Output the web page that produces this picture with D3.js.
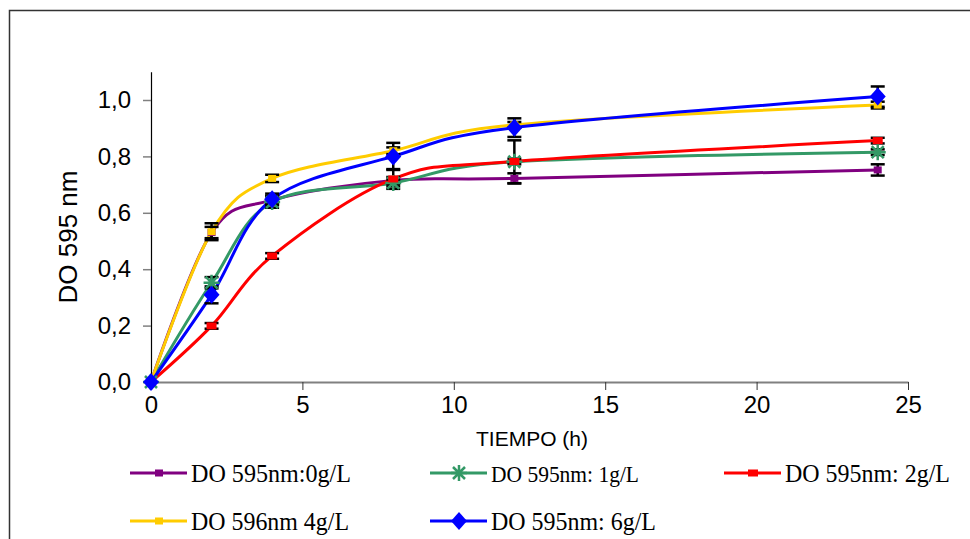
<!DOCTYPE html>
<html>
<head>
<meta charset="utf-8">
<script src="https://cdn.jsdelivr.net/npm/d3@7"></script>
<style>
  body { margin: 0; background: #fff; }
  svg { display: block; }
</style>
</head>
<body>
<svg id="chart" width="970" height="539"></svg>
<script>
// sampling times (h)
const times = [0, 2, 4, 8, 12, 24];

// OD 595 nm readings and their error bars, one pair per concentration
const od0g = [0, 0.53, 0.645, 0.715, 0.722, 0.752];
const err0g = [0, 0.02, 0.015, 0.012, 0.018, 0.02];
const od1g = [0, 0.352, 0.638, 0.706, 0.781, 0.815];
const err1g = [0, 0.02, 0.02, 0.012, 0.076, 0.01];
const od2g = [0, 0.199, 0.447, 0.72, 0.782, 0.856];
const err2g = [0, 0.01, 0.01, 0.035, 0.01, 0.01];
const od4g = [0, 0.533, 0.722, 0.82, 0.912, 0.982];
const err4g = [0, 0.03, 0.013, 0.012, 0.01, 0.012];
const od6g = [0, 0.309, 0.648, 0.80, 0.902, 1.012];
const err6g = [0, 0.03, 0.02, 0.048, 0.033, 0.036];

const legendLabels = ['DO 595nm:0g/L', 'DO 595nm: 1g/L', 'DO 595nm: 2g/L', 'DO 596nm 4g/L', 'DO 595nm: 6g/L'];
const xTicks = [0, 5, 10, 15, 20, 25];
const yTicks = [0, 0.2, 0.4, 0.6, 0.8, 1.0];

const series = [
    { label: legendLabels[0], values: od0g, errors: err0g, color: '#800080', marker: 'square' },
    { label: legendLabels[1], values: od1g, errors: err1g, color: '#339966', marker: 'star' },
    { label: legendLabels[2], values: od2g, errors: err2g, color: '#ff0000', marker: 'rect' },
    { label: legendLabels[3], values: od4g, errors: err4g, color: '#ffcc00', marker: 'square' },
    { label: legendLabels[4], values: od6g, errors: err6g, color: '#0000ff', marker: 'diamond' }
];

const sans = '"Liberation Sans", Arial, sans-serif';
const serif = '"Liberation Serif", "Times New Roman", serif';

const svg = d3.select('#chart');

// chart frame (right/bottom edges fall outside the picture)
svg.append('rect')
    .attr('x', 9.5).attr('y', 10.5)
    .attr('width', 1000).attr('height', 600)
    .attr('fill', 'none')
    .attr('stroke', '#333')
    .attr('stroke-width', 1.5);

const x = d3.scaleLinear().domain([0, 25]).range([151, 908]);
const y = d3.scaleLinear().domain([0, 1.1]).range([382, 71.8]);

// x axis
const xAxis = svg.append('g')
    .attr('transform', `translate(0,${y(0)})`)
    .call(d3.axisBottom(x).tickValues(xTicks).tickSize(8).tickSizeOuter(0).tickPadding(6));
xAxis.select('.domain').attr('stroke', '#808080').attr('stroke-width', 2);
xAxis.selectAll('.tick line').attr('stroke', '#333').attr('stroke-width', 1);
xAxis.selectAll('.tick text')
    .attr('font-family', sans)
    .attr('font-size', 24)
    .attr('fill', '#000');

// y axis
const yAxis = svg.append('g')
    .attr('transform', `translate(${x(0)},0)`)
    .call(d3.axisLeft(y).tickValues(yTicks).tickSize(8).tickSizeOuter(0).tickPadding(12)
        .tickFormat(d => d3.format('.1f')(d).replace('.', ',')));
yAxis.select('.domain').attr('stroke', '#000').attr('stroke-width', 1.2);
yAxis.selectAll('.tick line').attr('stroke', '#808080').attr('stroke-width', 1.5);
yAxis.selectAll('.tick text')
    .attr('font-family', sans)
    .attr('font-size', 24)
    .attr('fill', '#000');

// axis titles
svg.append('text')
    .attr('x', 532).attr('y', 446)
    .attr('text-anchor', 'middle')
    .attr('font-family', sans)
    .attr('font-size', 20)
    .attr('textLength', 112)
    .attr('lengthAdjust', 'spacingAndGlyphs')
    .text('TIEMPO (h)');

svg.append('text')
    .attr('transform', 'translate(77,237) rotate(-90)')
    .attr('text-anchor', 'middle')
    .attr('font-family', sans)
    .attr('font-size', 25)
    .attr('textLength', 133)
    .attr('lengthAdjust', 'spacingAndGlyphs')
    .text('DO 595 nm');

const line = d3.line()
    .x((d, i) => x(times[i]))
    .y(d => y(d))
    .curve(d3.curveCatmullRom.alpha(0));

function drawMarker(g, type, color) {
    if (type === 'square') {
        g.append('rect').attr('x', -4).attr('y', -3.5).attr('width', 8).attr('height', 7).attr('fill', color);
    } else if (type === 'rect') {
        g.append('rect').attr('x', -5).attr('y', -3.5).attr('width', 10).attr('height', 7).attr('fill', color);
    } else if (type === 'diamond') {
        g.append('path').attr('d', 'M0,-9L8,0L0,9L-8,0Z').attr('fill', color);
    } else if (type === 'star') {
        g.append('path')
            .attr('d', 'M0,-8V8M-8,0H8M-6,-6L6,6M-6,6L6,-6')
            .attr('stroke', color).attr('stroke-width', 2.5).attr('fill', 'none');
    }
}

const plot = svg.append('g');

series.forEach(s => {
    plot.append('path')
        .datum(s.values)
        .attr('d', line)
        .attr('fill', 'none')
        .attr('stroke', s.color)
        .attr('stroke-width', 3);
});

// error bars
series.forEach(s => {
    s.values.forEach((v, i) => {
        if (!s.errors[i]) return;
        const cx = x(times[i]);
        const y1 = y(v + s.errors[i]), y2 = y(v - s.errors[i]);
        const eb = plot.append('g').attr('stroke', '#000').attr('stroke-width', 2.5);
        eb.append('line').attr('x1', cx).attr('x2', cx).attr('y1', y1).attr('y2', y2);
        eb.append('line').attr('x1', cx - 7).attr('x2', cx + 7).attr('y1', y1).attr('y2', y1);
        eb.append('line').attr('x1', cx - 7).attr('x2', cx + 7).attr('y1', y2).attr('y2', y2);
    });
});

// markers
series.forEach(s => {
    s.values.forEach((v, i) => {
        const g = plot.append('g').attr('transform', `translate(${x(times[i])},${y(v)})`);
        drawMarker(g, s.marker, s.color);
    });
});

// legend
const legendPos = [
    { x: 130, y: 473 }, { x: 430, y: 473 }, { x: 724, y: 473 },
    { x: 130, y: 521 }, { x: 430, y: 521 }
];
const legendWidths = [160, 148, 165, 158, 165];
const legendSizes = [26, 23, 26, 26, 26];
series.forEach((s, i) => {
    const p = legendPos[i];
    const g = svg.append('g').attr('transform', `translate(${p.x},${p.y})`);
    g.append('line').attr('x1', 0).attr('x2', 57).attr('y1', 0).attr('y2', 0)
        .attr('stroke', s.color).attr('stroke-width', 3);
    const m = g.append('g').attr('transform', 'translate(29,0)');
    drawMarker(m, s.marker, s.color);
    g.append('text')
        .attr('x', 61).attr('y', 9)
        .attr('font-family', serif)
        .attr('font-size', legendSizes[i])
        .attr('textLength', legendWidths[i])
        .attr('lengthAdjust', 'spacingAndGlyphs')
        .text(s.label);
});
</script>
</body>
</html>
